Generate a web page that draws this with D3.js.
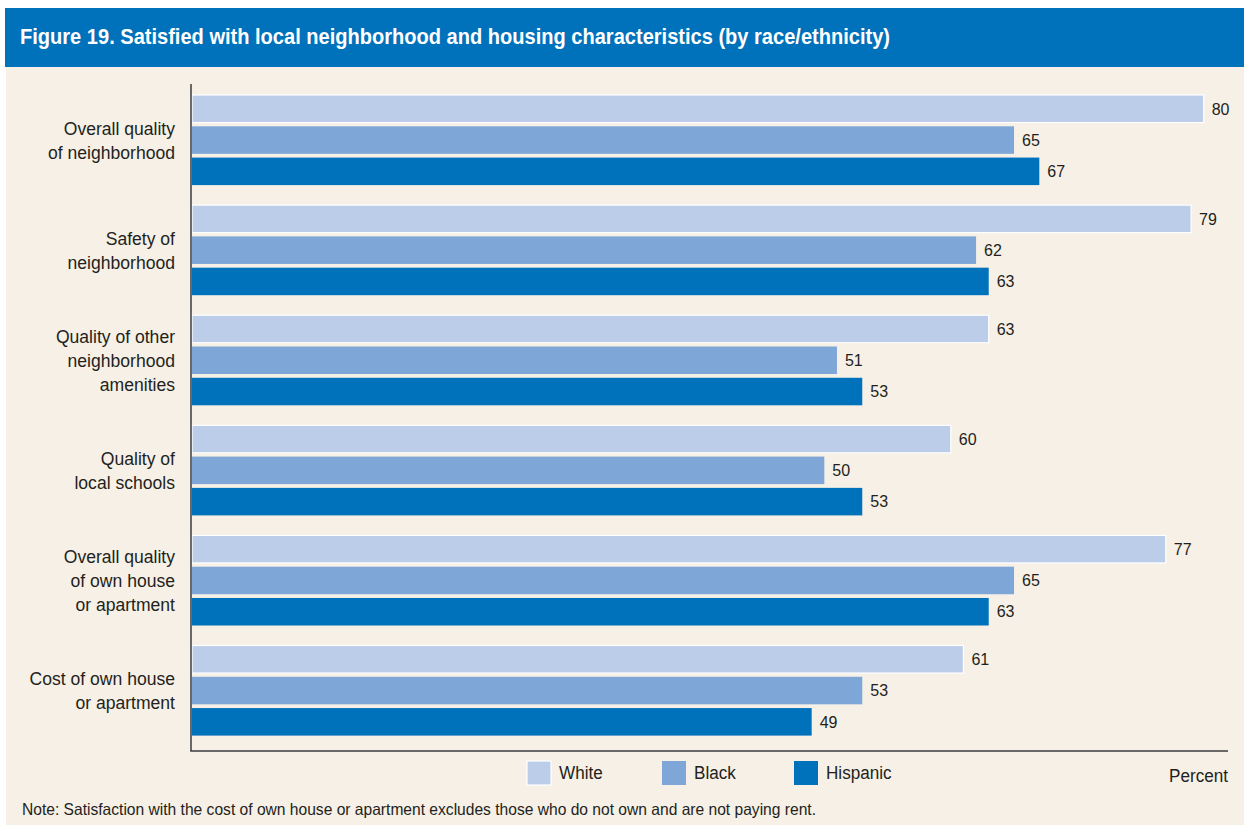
<!DOCTYPE html>
<html><head><meta charset="utf-8">
<script src="https://cdn.jsdelivr.net/npm/d3@7"></script>
<style>body{margin:0;background:#ffffff;} text{font-family:"Liberation Sans",Arial,"Helvetica",sans-serif;}</style>
</head><body>
<svg id="chart" width="1244" height="827"></svg>
<script>
const titleText = "Figure 19. Satisfied with local neighborhood and housing characteristics (by race/ethnicity)";
const noteText = "Note: Satisfaction with the cost of own house or apartment excludes those who do not own and are not paying rent.";
const axisLabel = "Percent";
const categories = [
  "Overall quality|of neighborhood",
  "Safety of|neighborhood",
  "Quality of other|neighborhood|amenities",
  "Quality of|local schools",
  "Overall quality|of own house|or apartment",
  "Cost of own house|or apartment"
];
const seriesNames = ["White", "Black", "Hispanic"];
const whiteValues    = [80, 79, 63, 60, 77, 61];
const blackValues    = [65, 62, 51, 50, 65, 53];
const hispanicValues = [67, 63, 53, 53, 63, 49];
const seriesColors = ["#bccde9", "#7ea6d7", "#0071bb"];

const valuesBySeries = [whiteValues, blackValues, hispanicValues];
const rows = [];
categories.forEach((c, i) => seriesNames.forEach((s, j) => rows.push({cat: c, series: s, value: valuesBySeries[j][i]})));

const svg = d3.select("#chart");
const textColor = "#231f20";

// background panels
svg.append("rect").attr("x", 6).attr("y", 67).attr("width", 1238).attr("height", 758).attr("fill", "#f6f0e6");
svg.append("rect").attr("x", 5).attr("y", 8).attr("width", 1239).attr("height", 59).attr("fill", "#0071bb");
svg.append("text").attr("x", 20).attr("y", 44).attr("fill", "#ffffff")
  .attr("font-size", 22).attr("font-weight", "bold")
  .attr("textLength", 870).attr("lengthAdjust", "spacingAndGlyphs")
  .text(titleText);

const x = d3.scaleLinear().domain([0, 82]).range([192, 1229]);
const y = d3.scaleBand().domain(categories).range([84, 751]).paddingInner(0.1818).paddingOuter(0.12).align(0.417);
const yInner = d3.scaleBand().domain(seriesNames).range([0, y.bandwidth()]).paddingInner(0.12);
const color = d3.scaleOrdinal().domain(seriesNames).range(seriesColors);

// bars
svg.append("g").selectAll("rect").data(rows).join("rect")
  .attr("x", x(0))
  .attr("y", d => y(d.cat) + yInner(d.series))
  .attr("width", d => x(d.value) - x(0))
  .attr("height", yInner.bandwidth())
  .attr("fill", d => color(d.series))
  .attr("stroke", d => d.series === "White" ? "#ffffff" : "none")
  .attr("stroke-width", 1.2);

// value labels
svg.append("g").selectAll("text").data(rows).join("text")
  .attr("x", d => x(d.value) + 8)
  .attr("y", d => y(d.cat) + yInner(d.series) + yInner.bandwidth() / 2)
  .attr("dy", "0.36em")
  .attr("font-size", 16).attr("fill", textColor)
  .text(d => d.value);

// axes (domain lines only)
const axisY = svg.append("g").attr("transform", `translate(${x(0) - 1},0)`)
  .call(d3.axisLeft(y).tickSize(0).tickFormat(""));
const axisX = svg.append("g").attr("transform", `translate(0,751)`)
  .call(d3.axisBottom(x).tickValues([]).tickSizeOuter(0));
[axisY, axisX].forEach(a => a.select(".domain").attr("stroke", "#3c3c3c").attr("stroke-width", 1.5));
axisX.select(".domain").attr("d", `M${x(0) - 1.75},0H${x.range()[1] - 1}`);
axisY.select(".domain").attr("d", `M0,84V751`);

// category labels (horizontally condensed)
const lineH = 24;
svg.append("g").attr("transform", "translate(175,0) scale(0.95,1)")
  .selectAll("text").data(categories).join("text")
  .attr("x", 0)
  .attr("font-size", 18.5).attr("fill", textColor).attr("text-anchor", "end")
  .each(function(c) {
    const lines = c.split("|");
    const cy = y(c) + y.bandwidth() / 2;
    const first = cy - (lines.length - 1) * lineH / 2 + 6.5;
    d3.select(this).selectAll("tspan").data(lines).join("tspan")
      .attr("x", 0).attr("y", (l, k) => first + k * lineH).text(l => l);
  });

// legend
const legendX = [527, 662, 794];
const lg = svg.append("g").selectAll("g").data(seriesNames).join("g")
  .attr("transform", (d, i) => `translate(${legendX[i]},761)`);
lg.append("rect").attr("width", 24).attr("height", 24).attr("fill", d => color(d))
  .attr("stroke", d => d === "White" ? "#ffffff" : "none").attr("stroke-width", 1.2);
lg.append("text").attr("transform", "translate(32,18) scale(0.9,1)")
  .attr("font-size", 19).attr("fill", textColor).text(d => d);

svg.append("text").attr("transform", "translate(1228,782) scale(0.9,1)").attr("text-anchor", "end")
  .attr("font-size", 19).attr("fill", textColor).text(axisLabel);

svg.append("text").attr("x", 22).attr("y", 815).attr("font-size", 16.5).attr("fill", textColor)
  .attr("textLength", 794).attr("lengthAdjust", "spacingAndGlyphs")
  .text(noteText);
</script>
</body></html>
